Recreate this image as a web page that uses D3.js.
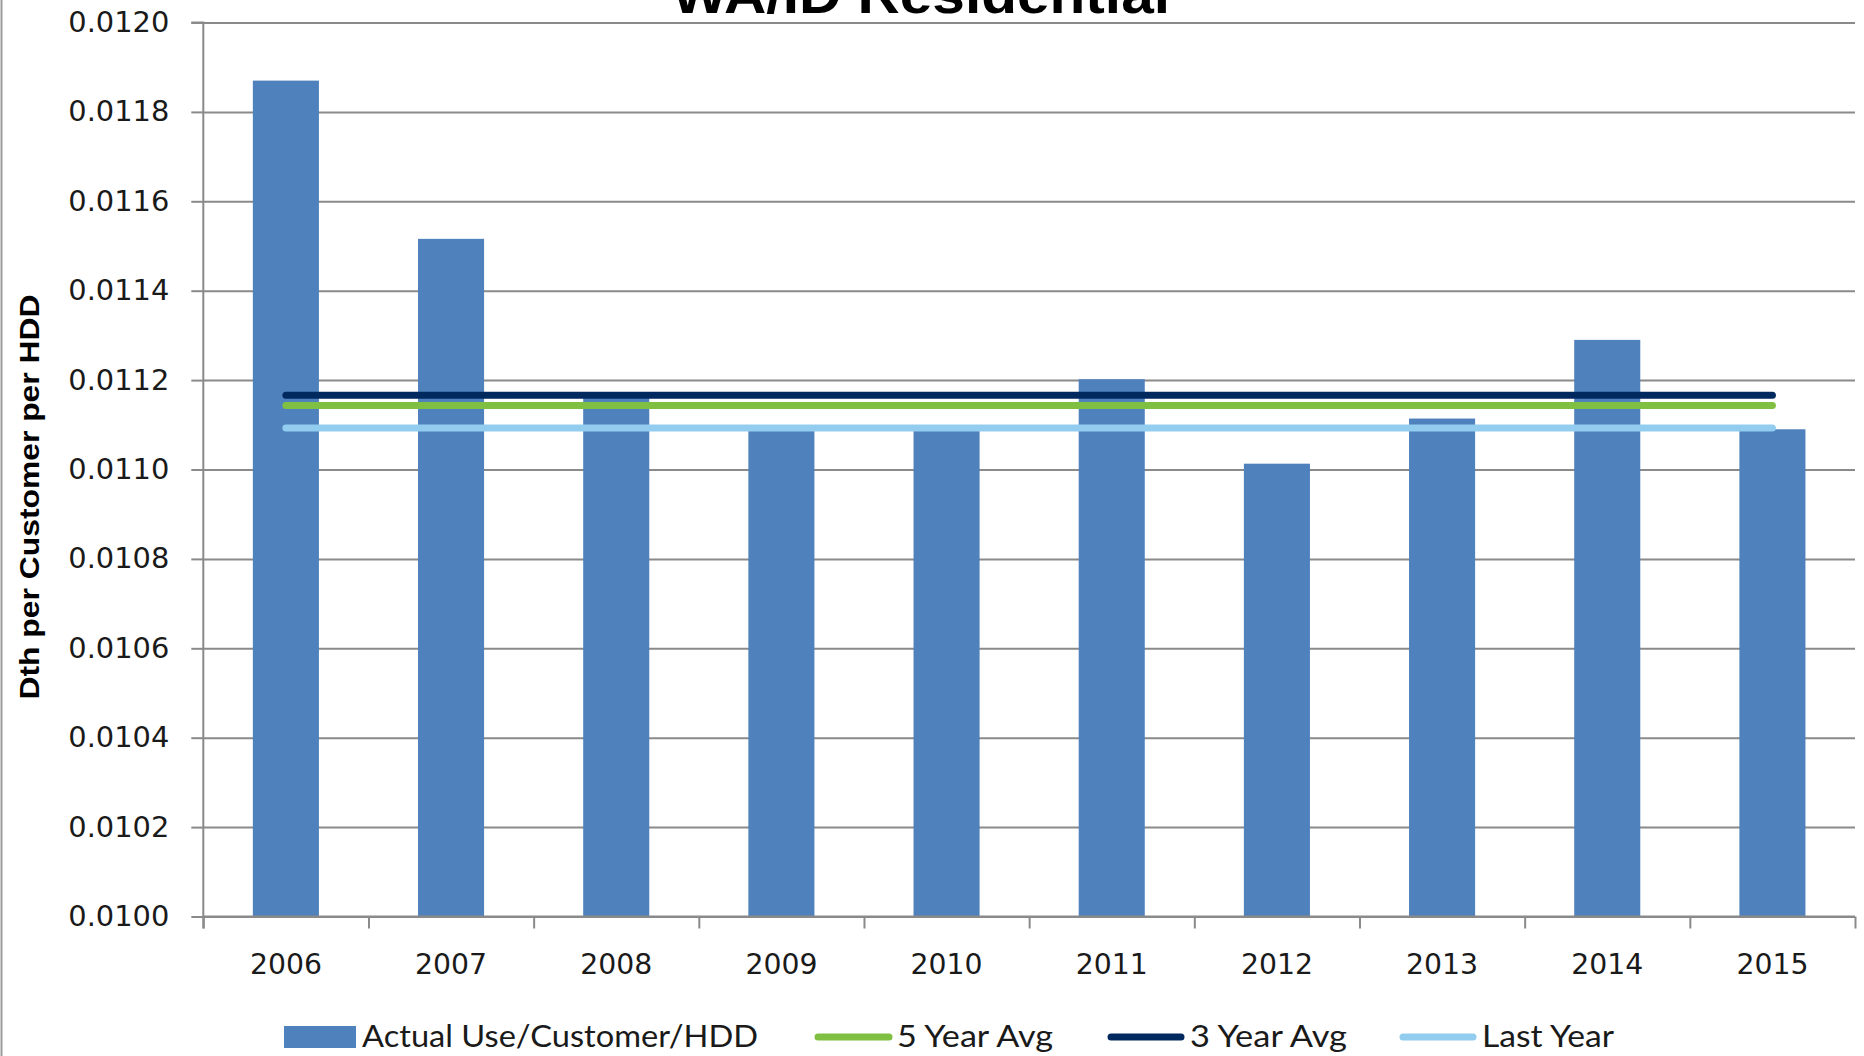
<!DOCTYPE html>
<html>
<head>
<meta charset="utf-8">
<script src="https://cdn.jsdelivr.net/npm/d3@7"></script>
<style>
  html, body { margin: 0; padding: 0; background: #fff; }
  svg { display: block; }
</style>
</head>
<body>
<div id="chart"></div>
<script>
// values
const years = ["2006", "2007", "2008", "2009", "2010", "2011", "2012", "2013", "2014", "2015"];
const actualUse = [0.01187, 0.011516, 0.01116, 0.01109, 0.01109, 0.011202, 0.011013, 0.011114, 0.01129, 0.01109];
const fiveYearAvg = 0.011143;
const threeYearAvg = 0.011166;
const lastYear = 0.011093;
const yTicks = [0.0100, 0.0102, 0.0104, 0.0106, 0.0108, 0.0110, 0.0112, 0.0114, 0.0116, 0.0118, 0.0120];

const legendNames = ["Actual Use/Customer/HDD", "5 Year Avg", "3 Year Avg", "Last Year"];

const barColor = "#4F81BD";
const greenColor = "#7FC043";
const navyColor = "#00295F";
const lightColor = "#92CDEF";
const gridColor = "#8a8a8a";

const W = 1864, H = 1056;
const plotLeft = 203.3, plotRight = 1855, plotTop = 22.5, plotBottom = 916.5;

const svg = d3.select("#chart").append("svg")
    .attr("width", W)
    .attr("height", H);

// chart area border on the left
svg.append("line")
    .attr("x1", 1.5).attr("x2", 1.5)
    .attr("y1", 0).attr("y2", H)
    .attr("stroke", "#9a9a9a")
    .attr("stroke-width", 2);

// scales
const x = d3.scaleBand()
    .domain(years)
    .range([plotLeft, plotRight])
    .paddingInner(0.6)
    .paddingOuter(0.3);

const xEdge = d3.scaleLinear()
    .domain([0, years.length])
    .range([plotLeft, plotRight]);

const y = d3.scaleLinear()
    .domain([0.0100, 0.0120])
    .range([plotBottom, plotTop]);

// gridlines
svg.append("g")
    .attr("transform", `translate(${plotLeft},0)`)
    .call(d3.axisLeft(y).tickValues(yTicks).tickSize(-(plotRight - plotLeft)).tickFormat(""))
    .call(g => g.select(".domain").remove())
    .call(g => g.selectAll(".tick line").attr("stroke", gridColor).attr("stroke-width", 2));

// y axis
svg.append("g")
    .attr("transform", `translate(${plotLeft},0)`)
    .call(d3.axisLeft(y).tickValues(yTicks).tickSize(12).tickPadding(22).tickFormat(d3.format(".4f")))
    .call(g => g.select(".domain").attr("stroke", gridColor).attr("stroke-width", 2)
        .attr("d", `M-12,${plotTop}H0V${plotBottom + 12}`))
    .call(g => g.selectAll(".tick line").attr("stroke", gridColor).attr("stroke-width", 2))
    .call(g => g.selectAll(".tick text")
        .attr("font-family", "DejaVu Sans")
        .attr("font-size", 28)
        .attr("fill", "#1a1a1a")
        .attr("textLength", 101)
        .attr("lengthAdjust", "spacingAndGlyphs"));

// bars
svg.append("g")
    .selectAll("rect")
    .data(years)
    .enter()
    .append("rect")
    .attr("x", d => x(d))
    .attr("width", x.bandwidth())
    .attr("y", (d, i) => y(actualUse[i]))
    .attr("height", (d, i) => y(0.0100) - y(actualUse[i]))
    .attr("fill", barColor);

// x axis with ticks at category boundaries
svg.append("g")
    .attr("transform", `translate(0,${plotBottom})`)
    .call(d3.axisBottom(xEdge).tickValues(d3.range(years.length + 1)).tickSize(12).tickFormat(""))
    .call(g => g.select(".domain").attr("stroke", gridColor).attr("stroke-width", 2).attr("d", `M${plotLeft},0H${plotRight}`))
    .call(g => g.selectAll(".tick line").attr("stroke", gridColor).attr("stroke-width", 2));

svg.append("g")
    .attr("transform", `translate(0,${plotBottom})`)
    .call(d3.axisBottom(x).tickSize(0).tickPadding(38))
    .call(g => g.select(".domain").remove())
    .call(g => g.selectAll(".tick text")
        .attr("font-family", "DejaVu Sans")
        .attr("font-size", 28)
        .attr("fill", "#1a1a1a")
        .attr("textLength", 72)
        .attr("lengthAdjust", "spacingAndGlyphs"));

// average lines
const avgLines = [
    { value: lastYear, color: lightColor },
    { value: fiveYearAvg, color: greenColor },
    { value: threeYearAvg, color: navyColor }
];
const lineGen = d3.line().x(d => d[0]).y(d => d[1]);
svg.append("g")
    .selectAll("path")
    .data(avgLines)
    .enter()
    .append("path")
    .attr("d", d => lineGen(years.map(yr => [x(yr) + x.bandwidth() / 2, y(d.value)])))
    .attr("fill", "none")
    .attr("stroke", d => d.color)
    .attr("stroke-width", 7)
    .attr("stroke-linecap", "round");

// title (mostly cut off at the top)
svg.append("text")
    .attr("x", 921)
    .attr("y", 13)
    .attr("text-anchor", "middle")
    .attr("font-family", "Liberation Sans")
    .attr("font-weight", "bold")
    .attr("font-size", 54)
    .attr("textLength", 498)
    .attr("lengthAdjust", "spacingAndGlyphs")
    .text("WA/ID Residential");

// y axis title
svg.append("text")
    .attr("transform", "translate(39,497) rotate(-90)")
    .attr("text-anchor", "middle")
    .attr("font-family", "Liberation Sans Narrow, Liberation Sans")
    .attr("font-weight", "bold")
    .attr("font-size", 27)
    .attr("textLength", 405)
    .attr("lengthAdjust", "spacingAndGlyphs")
    .text("Dth per Customer per HDD");

// legend
const legendY = 1037;
const legend = svg.append("g");
legend.append("rect")
    .attr("x", 284).attr("y", 1026)
    .attr("width", 72).attr("height", 22)
    .attr("fill", barColor);

const legendLines = [
    { x1: 818, x2: 889, color: greenColor },
    { x1: 1111, x2: 1181, color: navyColor },
    { x1: 1403, x2: 1473, color: lightColor }
];
legend.selectAll("line")
    .data(legendLines)
    .enter()
    .append("line")
    .attr("x1", d => d.x1).attr("x2", d => d.x2)
    .attr("y1", legendY).attr("y2", legendY)
    .attr("stroke", d => d.color)
    .attr("stroke-width", 7)
    .attr("stroke-linecap", "round");

const legendTextX = [362, 897, 1190, 1482];
const legendTextW = [396, 156, 157, 132];
legend.selectAll("text")
    .data(legendNames)
    .enter()
    .append("text")
    .attr("x", (d, i) => legendTextX[i])
    .attr("y", 1047)
    .attr("font-family", "Lato")
    .attr("font-size", 30)
    .attr("fill", "#1a1a1a")
    .attr("textLength", (d, i) => legendTextW[i])
    .attr("lengthAdjust", "spacingAndGlyphs")
    .text(d => d);
</script>
</body>
</html>
